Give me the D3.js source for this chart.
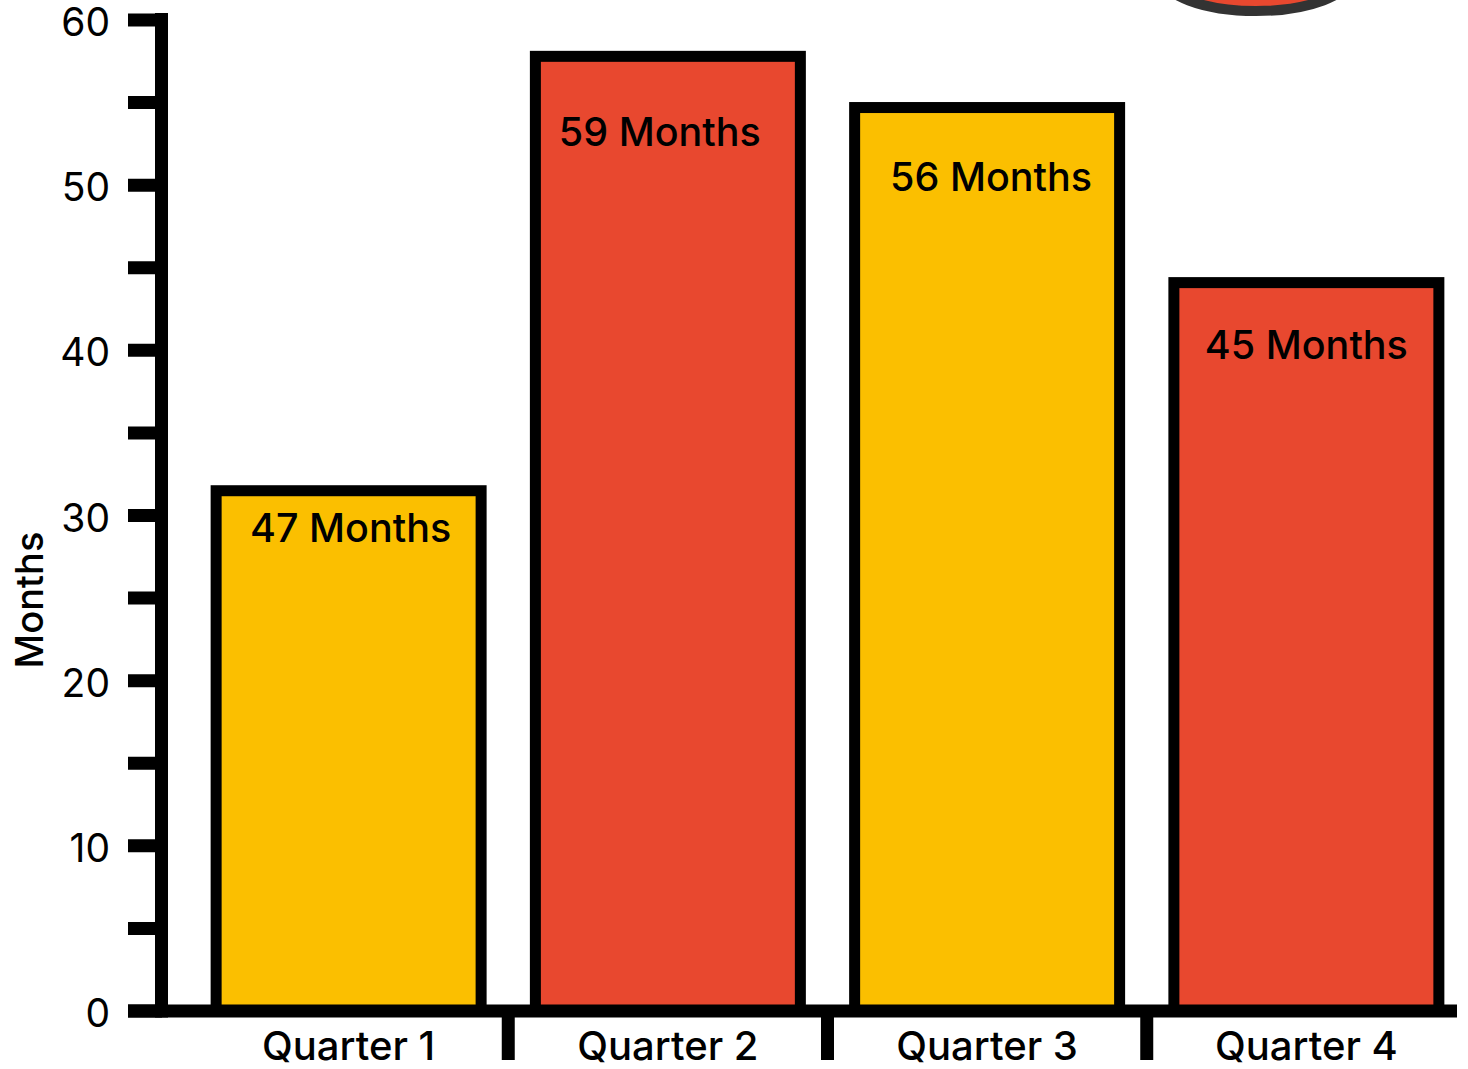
<!DOCTYPE html>
<html>
<head>
<meta charset="utf-8">
<script src="https://cdn.jsdelivr.net/npm/d3@7"></script>
<style>
  html, body { margin: 0; padding: 0; background: #ffffff; }
  svg { display: block; }
  text { font-family: Inter, "Noto Sans", sans-serif; fill: #000; }
</style>
</head>
<body>
<svg id="chart" width="1468" height="1069"></svg>
<script>
// ---- data ----
const categories = ["Quarter 1", "Quarter 2", "Quarter 3", "Quarter 4"];
const values = [31.5, 57.8, 54.7, 44.1];
const barLabels = ["47 Months", "59 Months", "56 Months", "45 Months"];
const barColors = ["#fbbf00", "#e8482f", "#fbbf00", "#e8482f"];
const majorTicks = [0, 10, 20, 30, 40, 50, 60];
const allTicks = [0, 5, 10, 15, 20, 25, 30, 35, 40, 45, 50, 55, 60];
const axisTitle = "Months";
// label offsets relative to bar top / centre (px), layout only
const labelOffsets = [37, 75, 69, 62];
const labelShiftX = [2, -8, 4, 0];

const svg = d3.select("#chart");

const y = d3.scaleLinear().domain([0, 60]).range([1011, 20]);
const x = d3.scaleBand().domain(categories).range([189, 1466])
  .paddingInner(0.17).paddingOuter(0.085);

// decorative ellipse at top right (cut off)
svg.append("ellipse")
  .attr("cx", 1256).attr("cy", -25).attr("rx", 95).attr("ry", 36)
  .attr("fill", "#e8482f").attr("stroke", "#333333").attr("stroke-width", 10);

// bars
svg.selectAll("rect.bar").data(values).join("rect")
  .attr("class", "bar")
  .attr("x", (d, i) => x(categories[i]))
  .attr("y", d => y(d))
  .attr("width", x.bandwidth())
  .attr("height", d => y(0) - y(d))
  .attr("fill", (d, i) => barColors[i])
  .attr("stroke", "#000").attr("stroke-width", 11);

// y axis line
svg.append("line")
  .attr("x1", 161.5).attr("x2", 161.5)
  .attr("y1", 13).attr("y2", y(0) + 6.5)
  .attr("stroke", "#000").attr("stroke-width", 13);

// y ticks
svg.selectAll("line.ytick").data(allTicks).join("line")
  .attr("class", "ytick")
  .attr("x1", 128).attr("x2", 162)
  .attr("y1", d => y(d)).attr("y2", d => y(d))
  .attr("stroke", "#000").attr("stroke-width", 13);

// y tick labels
svg.selectAll("text.ylab").data(majorTicks).join("text")
  .attr("class", "ylab")
  .attr("x", 110).attr("y", d => y(d) + 2)
  .attr("dy", "0.36em")
  .attr("text-anchor", "end")
  .attr("font-size", 39)
  .text(d => d);

// x axis line
svg.append("line")
  .attr("x1", 128).attr("x2", 1457)
  .attr("y1", y(0)).attr("y2", y(0))
  .attr("stroke", "#000").attr("stroke-width", 13);

// x separator ticks at band boundaries
const step = x.step();
const seps = categories.slice(1).map(c => x(c) - x.paddingInner() * step / 2);
svg.selectAll("line.xsep").data(seps).join("line")
  .attr("class", "xsep")
  .attr("x1", d => d).attr("x2", d => d)
  .attr("y1", y(0)).attr("y2", 1060)
  .attr("stroke", "#000").attr("stroke-width", 13);

// category labels
svg.selectAll("text.xlab").data(categories).join("text")
  .attr("class", "xlab")
  .attr("x", d => x(d) + x.bandwidth() / 2)
  .attr("y", 1060)
  .attr("text-anchor", "middle")
  .attr("font-size", 40)
  .attr("font-weight", 500)
  .text(d => d);

// bar labels
svg.selectAll("text.blab").data(values).join("text")
  .attr("class", "blab")
  .attr("x", (d, i) => x(categories[i]) + x.bandwidth() / 2 + labelShiftX[i])
  .attr("y", (d, i) => y(d) + labelOffsets[i])
  .attr("dy", "0.36em")
  .attr("text-anchor", "middle")
  .attr("font-size", 39.5)
  .attr("font-weight", 500)
  .text((d, i) => barLabels[i]);

// axis title
svg.append("text")
  .attr("transform", "translate(43,600) rotate(-90)")
  .attr("text-anchor", "middle")
  .attr("font-size", 38)
  .attr("font-weight", 500)
  .text(axisTitle);
</script>
</body>
</html>
